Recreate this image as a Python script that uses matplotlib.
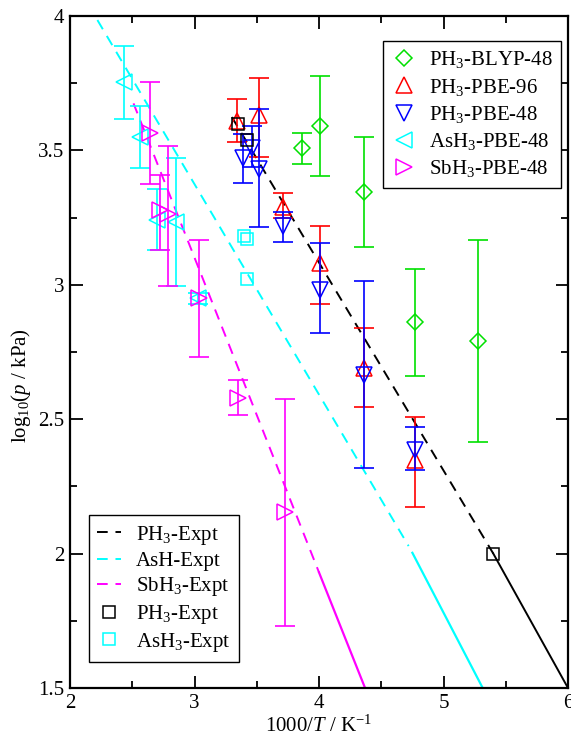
import matplotlib
matplotlib.use("Agg")
import matplotlib.pyplot as plt
import numpy as np
from matplotlib.lines import Line2D

plt.rcParams['font.family'] = ['Liberation Serif', 'DejaVu Serif']
plt.rcParams['mathtext.fontset'] = 'custom'
plt.rcParams['mathtext.rm'] = 'Liberation Serif'
plt.rcParams['mathtext.it'] = 'Liberation Serif:italic'
plt.rcParams['mathtext.bf'] = 'Liberation Serif:bold'

# ---- data ----
blyp_x = [3.86, 4.01, 4.36, 4.77, 5.28]
blyp_y = [3.51, 3.59, 3.345, 2.86, 2.79]
blyp_lo = [3.45, 3.405, 3.14, 2.66, 2.415]
blyp_hi = [3.565, 3.775, 3.55, 3.06, 3.165]

pbe96_x = [3.34, 3.52, 3.71, 4.01, 4.36, 4.77]
pbe96_y = [3.61, 3.63, 3.29, 3.08, 2.69, 2.35]
pbe96_lo = [3.53, 3.475, 3.25, 2.93, 2.545, 2.175]
pbe96_hi = [3.69, 3.77, 3.34, 3.22, 2.84, 2.51]

pbe48_x = [3.39, 3.46, 3.52, 3.71, 4.01, 4.36, 4.77]
pbe48_y = [3.47, 3.51, 3.43, 3.22, 2.98, 2.665, 2.385]
pbe48_lo = [3.38, 3.44, 3.215, 3.16, 2.82, 2.32, 2.31]
pbe48_hi = [3.56, 3.59, 3.655, 3.27, 3.155, 3.015, 2.47]

ash3_x = [2.43, 2.56, 2.70, 2.85, 3.03]
ash3_y = [3.755, 3.55, 3.24, 3.235, 2.95]
ash3_lo = [3.615, 3.435, 3.13, 2.995, 2.93]
ash3_hi = [3.89, 3.665, 3.355, 3.47, 2.97]

sbh3_x = [2.64, 2.72, 2.79, 3.04, 3.35, 3.73]
sbh3_y = [3.565, 3.28, 3.265, 2.95, 2.58, 2.155]
sbh3_lo = [3.375, 3.13, 2.995, 2.73, 2.515, 1.73]
sbh3_hi = [3.755, 3.41, 3.515, 3.165, 2.645, 2.575]

ph3e_x = [3.35, 3.42, 5.40]
ph3e_y = [3.60, 3.54, 2.00]
ash3e_x = [3.40, 3.42, 3.42]
ash3e_y = [3.18, 3.17, 3.02]

ph3_dash_x = [3.30, 5.40]; ph3_dash_y = [3.624, 2.00]
ph3_solid_x = [5.40, 6.00]; ph3_solid_y = [2.00, 1.50]
ash_dash_x = [2.22, 4.72]; ash_dash_y = [3.985, 2.028]
ash_solid_x = [4.75, 5.315]; ash_solid_y = [2.003, 1.50]
sb_dash_x = [2.51, 4.00]; sb_dash_y = [3.675, 1.93]
sb_solid_x = [4.00, 4.37]; sb_solid_y = [1.93, 1.50]

GREEN = '#00e000'
RED = '#ff0000'
BLUE = '#0000ff'
CYAN = '#00ffff'
MAG = '#ff00ff'
FS = 15

fig = plt.figure(figsize=(5.71, 7.40), dpi=100)
ax = fig.add_axes([70/571, 52/740, 498/571, 672/740])

DASH = (5.5, 4)
ax.plot(ph3_dash_x, ph3_dash_y, color='black', lw=1.4, dashes=DASH)
ax.plot(ph3_solid_x, ph3_solid_y, color='black', lw=1.4)
ax.plot(ash_dash_x, ash_dash_y, color=CYAN, lw=1.4, dashes=DASH)
ax.plot(ash_solid_x, ash_solid_y, color=CYAN, lw=1.6)
ax.plot(sb_dash_x, sb_dash_y, color=MAG, lw=1.4, dashes=DASH)
ax.plot(sb_solid_x, sb_solid_y, color=MAG, lw=1.6)


def series(x, y, lo, hi, color, marker, ms):
    x = np.asarray(x); y = np.asarray(y)
    yerr = [y - np.asarray(lo), np.asarray(hi) - y]
    ax.errorbar(x, y, yerr=yerr, fmt='none', ecolor=color, elinewidth=1.2,
                capsize=7, capthick=1.2)
    ax.plot(x, y, linestyle='none', marker=marker, ms=ms, mfc='none',
            mec=color, mew=1.1)

series(blyp_x, blyp_y, blyp_lo, blyp_hi, GREEN, 'D', 8.5)
series(pbe96_x, pbe96_y, pbe96_lo, pbe96_hi, RED, '^', 11)
series(pbe48_x, pbe48_y, pbe48_lo, pbe48_hi, BLUE, 'v', 11)
series(ash3_x, ash3_y, ash3_lo, ash3_hi, CYAN, '<', 11)
series(sbh3_x, sbh3_y, sbh3_lo, sbh3_hi, MAG, '>', 11)

ax.plot(ph3e_x, ph3e_y, linestyle='none', marker='s', ms=9, mfc='none', mec='black', mew=1.1)
ax.plot(ash3e_x, ash3e_y, linestyle='none', marker='s', ms=9, mfc='none', mec=CYAN, mew=1.1)

ax.set_xlim(2, 6)
ax.set_ylim(1.5, 4)
ax.set_xticks([2, 3, 4, 5, 6])
ax.set_xticklabels(['2', '3', '4', '5', '6'])
ax.set_yticks([1.5, 2, 2.5, 3, 3.5, 4])
ax.set_yticklabels(['1.5', '2', '2.5', '3', '3.5', '4'])
ax.set_xticks(np.arange(2.5, 6, 1.0), minor=True)
ax.set_yticks(np.arange(1.75, 4, 0.5), minor=True)
ax.tick_params(which='both', direction='in', top=True, right=True, labelsize=FS, width=1.3)
ax.tick_params(which='major', length=9, pad=4)
ax.tick_params(which='minor', length=5)
for s in ax.spines.values():
    s.set_linewidth(1.6)

ax.set_xlabel(r'1000/$T$ / K$^{\mathregular{-1}}$', fontsize=FS, labelpad=2)
ax.set_ylabel(r'log$_{\mathregular{10}}$($p$ / kPa)', fontsize=FS)
ax.yaxis.set_label_coords(-0.074, 0.45)

h1 = [
    Line2D([], [], ls='none', marker='D', ms=8.5, mfc='none', mec=GREEN, mew=1.1),
    Line2D([], [], ls='none', marker='^', ms=11, mfc='none', mec=RED, mew=1.1),
    Line2D([], [], ls='none', marker='v', ms=11, mfc='none', mec=BLUE, mew=1.1),
    Line2D([], [], ls='none', marker='<', ms=11, mfc='none', mec=CYAN, mew=1.1),
    Line2D([], [], ls='none', marker='>', ms=11, mfc='none', mec=MAG, mew=1.1),
]
l1 = [r'PH$_3$-BLYP-48', r'PH$_3$-PBE-96', r'PH$_3$-PBE-48', r'AsH$_3$-PBE-48', r'SbH$_3$-PBE-48']
leg1 = fig.legend(h1, l1, loc='upper left', bbox_to_anchor=(383/571, 1 - 41/740),
                  bbox_transform=fig.transFigure, borderaxespad=0, fontsize=FS,
                  frameon=True, fancybox=False, edgecolor='black', framealpha=1,
                  handlelength=1.2, handletextpad=0.6, labelspacing=0.3,
                  borderpad=0.4)
leg1.get_frame().set_linewidth(1.0)

h2 = [
    Line2D([], [], color='black', lw=1.4, dashes=DASH),
    Line2D([], [], color=CYAN, lw=1.4, dashes=DASH),
    Line2D([], [], color=MAG, lw=1.4, dashes=DASH),
    Line2D([], [], ls='none', marker='s', ms=9, mfc='none', mec='black', mew=1.1),
    Line2D([], [], ls='none', marker='s', ms=9, mfc='none', mec=CYAN, mew=1.1),
]
l2 = [r'PH$_3$-Expt', 'AsH-Expt', r'SbH$_3$-Expt', r'PH$_3$-Expt', r'AsH$_3$-Expt']
leg2 = fig.legend(h2, l2, loc='lower left', bbox_to_anchor=(89/571, 1 - 662/740),
                  bbox_transform=fig.transFigure, borderaxespad=0, fontsize=FS,
                  frameon=True, fancybox=False, edgecolor='black', framealpha=1,
                  handlelength=1.15, handletextpad=0.7, labelspacing=0.22,
                  borderpad=0.4)
leg2.get_frame().set_linewidth(1.0)

fig.savefig('out.png', dpi=100)
